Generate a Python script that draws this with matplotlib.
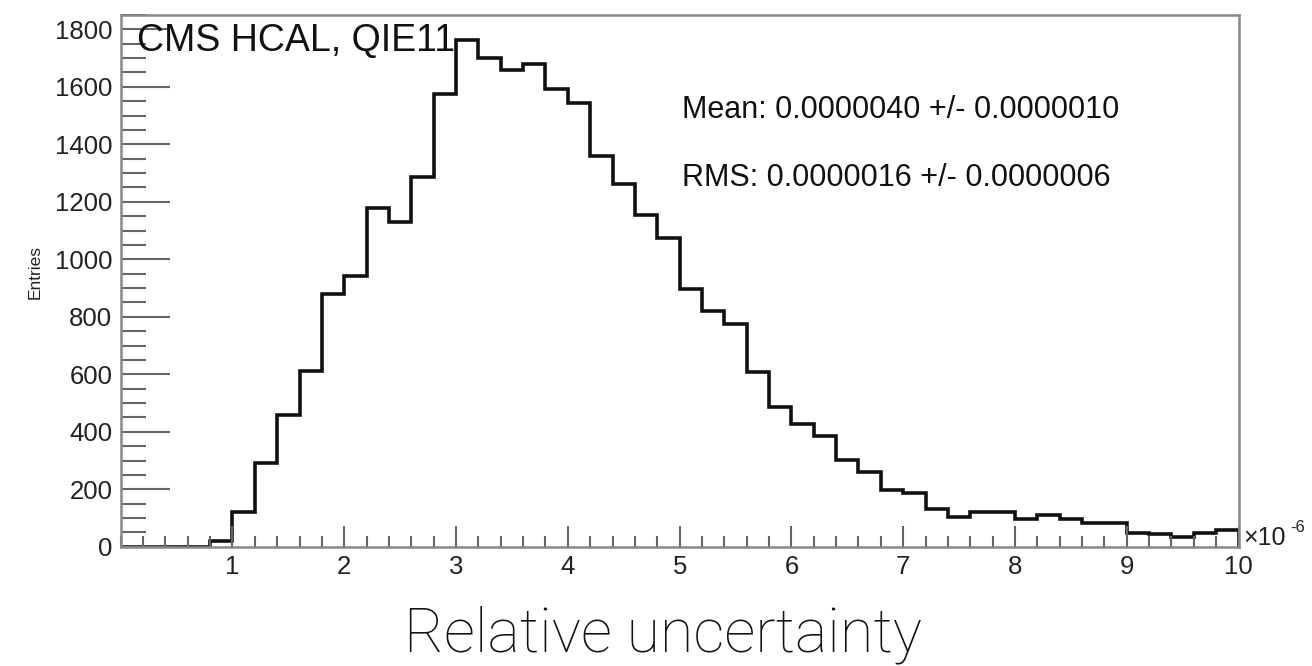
"""Histogramme de l'incertitude relative (CMS HCAL, QIE11), style ROOT."""

import matplotlib
import matplotlib.pyplot as plt
import numpy as np
from matplotlib.ticker import MultipleLocator

matplotlib.use("Agg")

plt.rcParams.update({
    "font.family": ["Liberation Sans", "DejaVu Sans"],
    "font.size": 18,
})

# Bords des bins (unités de 1e-6) et contenus
bin_edges = np.linspace(0, 10, 51)
counts = [
    0, 0, 0, 0, 20,
    122, 290, 458, 613, 878,
    942, 1177, 1131, 1287, 1575,
    1763, 1701, 1658, 1678, 1592,
    1545, 1360, 1262, 1154, 1073,
    896, 821, 775, 607, 485,
    427, 385, 302, 259, 198,
    186, 133, 105, 122, 122,
    98, 110, 98, 84, 84,
    47, 44, 35, 49, 58,
]

title_text = "CMS HCAL, QIE11"
stats_lines = [
    "Mean: 0.0000040 +/- 0.0000010",
    "RMS: 0.0000016 +/- 0.0000006",
]

fig = plt.figure(figsize=(13.12, 6.66), dpi=100)
ax = fig.add_axes([0.092, 0.179, 0.852, 0.7985])

ax.stairs(counts, bin_edges, color="#111111", linewidth=2.6)

ax.set_xlim(0, 10)
ax.set_ylim(0, 1850)

ax.xaxis.set_major_locator(MultipleLocator(1))
ax.xaxis.set_minor_locator(MultipleLocator(0.2))
ax.yaxis.set_major_locator(MultipleLocator(200))
ax.yaxis.set_minor_locator(MultipleLocator(50))

ax.tick_params(axis="both", which="both", direction="in", colors="#666666",
               labelcolor="#222222", width=1.5)
ax.tick_params(axis="y", which="major", length=35, labelsize=18.5, pad=6)
ax.tick_params(axis="y", which="minor", length=18)
ax.tick_params(axis="x", which="major", length=15, labelsize=18.5, pad=6)
ax.tick_params(axis="x", which="minor", length=8)
ax.set_xticks(range(1, 11))

for spine in ax.spines.values():
    spine.set_color("#888888")
    spine.set_linewidth(1.8)

ax.text(0.0146, 0.951, title_text, transform=ax.transAxes,
        fontsize=27, ha="left", va="center", color="#111111")
ax.text(0.502, 0.822, stats_lines[0], transform=ax.transAxes,
        fontsize=22, ha="left", va="center", color="#111111")
ax.text(0.502, 0.694, stats_lines[1], transform=ax.transAxes,
        fontsize=22, ha="left", va="center", color="#111111")

fig.text(35 / 1312, 1 - 272 / 666, "Entries", rotation=90,
         fontsize=12.5, ha="center", va="center", color="#222222")

# Facteur d'échelle de l'axe x
fig.text(1243 / 1312, 1 - 538 / 666, "×10", fontsize=18,
         ha="left", va="center", color="#222222")
fig.text(1290 / 1312, 1 - 528 / 666, "-6", fontsize=12,
         ha="left", va="center", color="#222222")

fig.text(663 / 1312, 1 - 651 / 666, "Relative uncertainty",
         family=["Roboto", "Liberation Sans"], fontweight="light",
         fontsize=44, ha="center", va="baseline", color="#111111")

fig.savefig("out.png", dpi=100)
plt.close(fig)
